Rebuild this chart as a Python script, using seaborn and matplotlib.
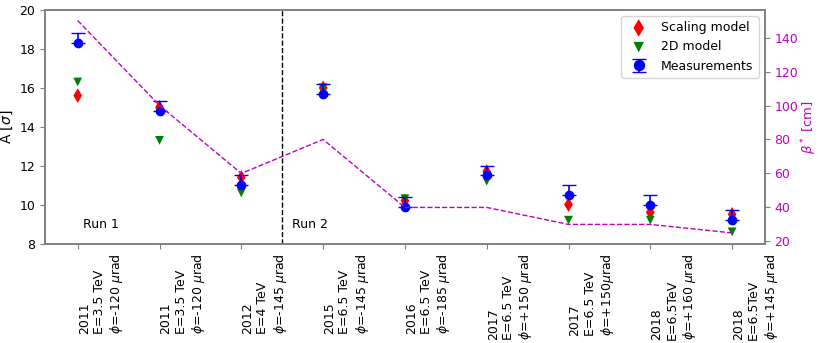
import matplotlib
matplotlib.use("Agg")
import matplotlib.pyplot as plt
import numpy as np
import pandas as pd
import seaborn as sns

# tick labels for each fill
labels = [
    "2011\nE=3.5 TeV\n$\\phi$=-120 $\\mu$rad",
    "2011\nE=3.5 TeV\n$\\phi$=-120 $\\mu$rad",
    "2012\nE=4 TeV\n$\\phi$=-145 $\\mu$rad",
    "2015\nE=6.5 TeV\n$\\phi$=-145 $\\mu$rad",
    "2016\nE=6.5 TeV\n$\\phi$=-185 $\\mu$rad",
    "2017\nE=6.5 TeV\n$\\phi$=+150 $\\mu$rad",
    "2017\nE=6.5 TeV\n$\\phi$=+150$\\mu$rad",
    "2018\nE=6.5TeV\n$\\phi$=+160 $\\mu$rad",
    "2018\nE=6.5TeV\n$\\phi$=+145 $\\mu$rad",
]

# values
scaling_model = [15.6, 15.0, 11.4, 16.0, 10.2, 11.7, 10.0, 9.6, 9.5]
model_2d = [16.3, 13.3, 10.6, 16.0, 10.3, 11.2, 9.2, 9.2, 8.6]
measurements = [18.3, 14.8, 11.0, 15.7, 9.9, 11.5, 10.5, 10.0, 9.2]
meas_err_up = [0.5, 0.5, 0.5, 0.5, 0.5, 0.5, 0.5, 0.5, 0.5]
meas_err_down = [0, 0, 0, 0, 0, 0, 0, 0, 0]
beta_star = [150, 100, 60, 80, 40, 40, 30, 30, 25]

x = np.arange(len(labels))
df = pd.DataFrame({"x": x, "scaling": scaling_model, "model2d": model_2d,
                   "meas": measurements, "beta": beta_star})

fig, ax = plt.subplots(figsize=(8.18, 3.43), dpi=100)
fig.subplots_adjust(left=0.055, right=0.935, top=0.971, bottom=0.29)

sns.scatterplot(x="x", y="scaling", data=df, ax=ax, color="r", marker="d",
                s=55, edgecolor="none", label="Scaling model")
sns.scatterplot(x="x", y="model2d", data=df, ax=ax, color="g", marker="v",
                s=40, edgecolor="none", label="2D model")
ax.errorbar(df["x"], df["meas"], yerr=[meas_err_down, meas_err_up], fmt="o",
            color="b", markersize=6, capsize=5, elinewidth=1.2,
            label="Measurements", zorder=3)

ax.axvline(2.5, color="k", linestyle="--", linewidth=1)
ax.text(0.07, 9.0, "Run 1", fontsize=9, va="center")
ax.text(2.62, 9.0, "Run 2", fontsize=9, va="center")

ax.set_ylim(8, 20)
ax.set_ylabel("A [$\\sigma$]", fontsize=10, labelpad=3)
ax.set_xlabel("")
ax.set_xticks(x)
ax.set_xticklabels(labels, rotation=90, ha="left", fontsize=9)
ax.tick_params(axis="y", labelsize=9)
ax.legend(loc="upper right", fontsize=9, markerscale=1.2)

# beta* on the second axis
ax2 = ax.twinx()
sns.lineplot(x="x", y="beta", data=df, ax=ax2, color="m", linestyle="--",
             linewidth=1)
ax2.set_ylabel("$\\beta^*$ [cm]", color="m", fontsize=9.5, labelpad=1)
ax2.tick_params(axis="y", labelcolor="m", labelsize=9)
ax2.set_xlim(-0.4, 8.4)

for a in (ax, ax2):
    for sp in a.spines.values():
        sp.set_color("gray")
        sp.set_linewidth(1.2)
    a.tick_params(color="gray")

plt.savefig("out.png", dpi=100)
